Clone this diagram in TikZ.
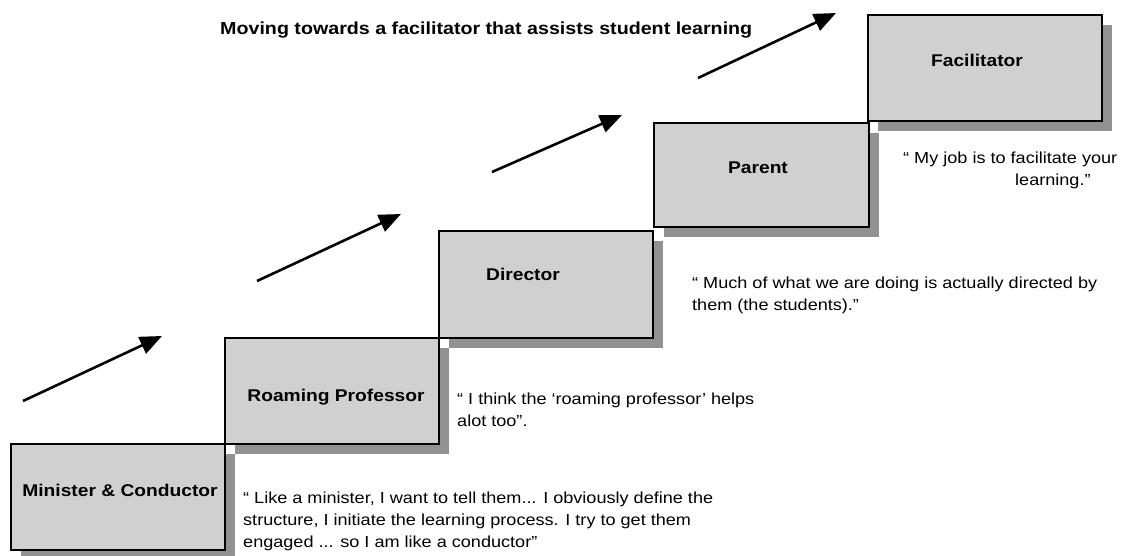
\documentclass[tikz,border=0pt]{standalone}
\usepackage{fontspec}
\setmainfont[FakeStretch=1.13]{Liberation Sans}
\usetikzlibrary{arrows.meta,shadows}
\definecolor{boxfill}{RGB}{208,208,208}
\definecolor{shadowgray}{RGB}{145,145,145}
\tikzset{
  stepbox/.style={draw=black, line width=2.6pt, fill=boxfill, rectangle, inner sep=0pt,
    general shadow={shadow xshift=10pt, shadow yshift=-10pt, fill=shadowgray}},
  steplabel/.style={anchor=base, font=\fontsize{17}{20}\selectfont\bfseries, inner sep=0pt},
  quote/.style={anchor=base west, align=left, font=\fontsize{16}{22}\selectfont, inner sep=0pt},
  movearrow/.style={line width=2.6pt, -{Triangle[length=22pt,width=18pt]}}
}
\begin{document}
\begin{tikzpicture}[x=1pt,y=-1pt]
\useasboundingbox (0,0) rectangle (1146,555);
% boxes
\node[stepbox, minimum width=214pt, minimum height=106pt] (b1) at (118,497) {};
\node[stepbox, minimum width=214pt, minimum height=106pt] (b2) at (332,391) {};
\node[stepbox, minimum width=214pt, minimum height=107pt] (b3) at (546,284.5) {};
\node[stepbox, minimum width=215pt, minimum height=104pt] (b4) at (761.5,175) {};
\node[stepbox, minimum width=234pt, minimum height=106pt] (b5) at (985,68) {};
% labels
\node[steplabel] (l1) at (120,496) {Minister \& Conductor};
\node[steplabel] (l2) at (336,401) {Roaming Professor};
\node[steplabel] (l3) at (523,280) {Director};
\node[steplabel] (l4) at (758,173) {Parent};
\node[steplabel] (l5) at (977,66) {Facilitator};
% title
\node[anchor=base west, font=\fontsize{17.4}{20}\selectfont\bfseries, inner sep=0pt] (title) at (220,34) {Moving towards a facilitator that assists student learning};
% quotes (anchored at the baseline of the last line)
\node[quote] (q1) at (243,547) {“ Like a minister, I want to tell them... I obviously define the\\structure, I initiate the learning process. I try to get them\\engaged ... so I am like a conductor”};
\node[quote] (q2) at (457,426) {“ I think the ‘roaming professor’ helps\\alot too”.};
\node[quote] (q3) at (692,310) {“ Much of what we are doing is actually directed by\\them (the students).”};
\node[quote] (q4) at (903,185) {“ My job is to facilitate your\\\hspace*{112pt}learning.”};
% arrows
\coordinate (a1s) at (23,401); \coordinate (a1e) at (162,336);
\coordinate (a2s) at (257,281); \coordinate (a2e) at (401,214);
\coordinate (a3s) at (492,172); \coordinate (a3e) at (622,115);
\coordinate (a4s) at (698,78); \coordinate (a4e) at (836,13);
\draw[movearrow] (a1s) -- (a1e);
\draw[movearrow] (a2s) -- (a2e);
\draw[movearrow] (a3s) -- (a3e);
\draw[movearrow] (a4s) -- (a4e);
\end{tikzpicture}
\end{document}
